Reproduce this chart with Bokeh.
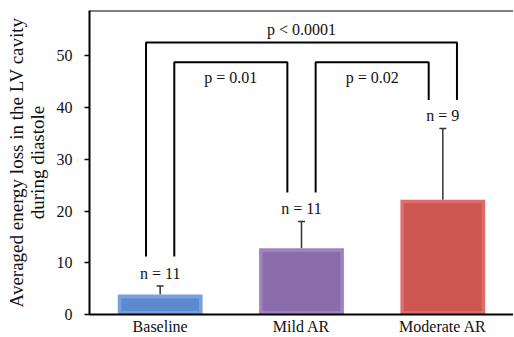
from bokeh.plotting import figure
from bokeh.models import (FactorRange, Range1d, FixedTicker, Span, Label, Whisker,
                          ColumnDataSource, TeeHead)
from bokeh.core.properties import value
from bokeh.embed import file_html
from bokeh.resources import INLINE

# ---- data ----
groups = ["Baseline", "Mild AR", "Moderate AR"]
means = [3.85, 12.8, 22.2]
sds = [1.65, 5.2, 13.8]
n_labels = ["n = 11", "n = 11", "n = 9"]
fill_main = ["#5a8ad0", "#8a6cab", "#cd5552"]
fill_edge = ["#79a2dc", "#9f83c0", "#dc6d6a"]
y_ticks = [0, 10, 20, 30, 40, 50]

# comparisons: (left group, right group, bracket top, left leg end, right leg end, label, outer?)
cmp_left = [0, 0, 1]
cmp_right = [2, 1, 2]
cmp_top = [52.6, 48.8, 48.8]
cmp_left_end = [11.2, 11.2, 23.6]
cmp_right_end = [41.5, 23.6, 41.5]
cmp_text = ["p < 0.0001", "p = 0.01", "p = 0.02"]
cmp_outer = [True, False, False]

FONT = "Liberation Serif"
Y_END = 58.8
FS = "16px"

p = figure(x_range=FactorRange(*groups), y_range=Range1d(0, Y_END),
           width=513, height=337, output_backend="svg", toolbar_location=None,
           min_border_left=89, min_border_right=0, min_border_top=10, min_border_bottom=0)
p.outline_line_color = None
p.xgrid.visible = False
p.ygrid.visible = False

# bars with a simple bevel look
centers = [i + 0.5 for i in range(len(groups))]
p.vbar(x=centers, top=means, width=0.6, bottom=0, fill_color=fill_edge, line_color=None)
inset_x = 0.025
inset_y = 0.7
p.vbar(x=centers, top=[m - inset_y for m in means], bottom=inset_y,
       width=0.6 - 2 * inset_x, fill_color=fill_main, line_color=None)

# error bars (upper only)
err_src = ColumnDataSource(dict(x=centers, lower=means, upper=[m + s for m, s in zip(means, sds)]))
w = Whisker(base="x", lower="lower", upper="upper", source=err_src, dimension="height",
            line_color="#333333", line_width=1.5,
            upper_head=TeeHead(size=7, line_color="#333333", line_width=1.5), lower_head=None)
p.add_layout(w)

# n labels
p.text(x=centers, y=[m + s for m, s in zip(means, sds)], text=n_labels,
       text_font=value(FONT), text_font_size=FS, text_align="center",
       text_baseline="middle", y_offset=-13, text_color="#111111")

# significance brackets
d = 0.1
bx, by = [], []
for a, b, top, le, re, outer in zip(cmp_left, cmp_right, cmp_top, cmp_left_end,
                                    cmp_right_end, cmp_outer):
    x0 = a + 0.5 - d if outer else a + 0.5 + d
    x1 = b + 0.5 + d if outer else b + 0.5 - d
    bx.append([x0, x0, x1, x1])
    by.append([le, top, top, re])
p.multi_line(xs=bx, ys=by, line_color="black", line_width=2)

outer_x = [(cmp_left[i] + cmp_right[i] + 1) / 2 for i in range(3) if cmp_outer[i]]
outer_y = [cmp_top[i] for i in range(3) if cmp_outer[i]]
outer_t = [cmp_text[i] for i in range(3) if cmp_outer[i]]
inner_x = [(cmp_left[i] + cmp_right[i] + 1) / 2 for i in range(3) if not cmp_outer[i]]
inner_y = [cmp_top[i] for i in range(3) if not cmp_outer[i]]
inner_t = [cmp_text[i] for i in range(3) if not cmp_outer[i]]
p.text(x=outer_x, y=outer_y, text=outer_t, text_font=value(FONT), text_font_size=FS,
       text_align="center", text_baseline="bottom", y_offset=-5, text_color="#111111")
p.text(x=inner_x, y=inner_y, text=inner_t, text_font=value(FONT), text_font_size=FS,
       text_align="center", text_baseline="top", y_offset=7, text_color="#111111")

# top border line
p.add_layout(Span(location=Y_END, dimension="width", line_color="black", line_width=2))

# axes
p.yaxis.ticker = FixedTicker(ticks=y_ticks)
p.yaxis.minor_tick_line_color = None
p.yaxis.major_tick_in = 0
p.yaxis.major_tick_out = 5
p.yaxis.major_tick_line_width = 1.5
p.yaxis.major_tick_line_color = "black"
p.yaxis.axis_line_width = 2
p.yaxis.axis_line_color = "black"
p.yaxis.major_label_standoff = 12
p.yaxis.major_label_text_font = FONT
p.yaxis.major_label_text_font_size = FS
p.yaxis.major_label_text_color = "#111111"
p.yaxis.axis_label = "Averaged energy loss in the LV cavity\nduring diastole"
p.yaxis.axis_label_text_font = FONT
p.yaxis.axis_label_text_font_size = "19px"
p.yaxis.axis_label_text_font_style = "normal"
p.yaxis.axis_label_text_color = "#111111"
p.yaxis.axis_label_text_line_height = 1.0
p.yaxis.axis_label_standoff = 6

p.xaxis.major_tick_line_color = None
p.xaxis.minor_tick_line_color = None
p.xaxis.major_tick_out = 0
p.xaxis.major_tick_in = 0
p.xaxis.axis_label = None
p.xaxis.axis_label_standoff = 0
p.xaxis.axis_line_width = 2
p.xaxis.axis_line_color = "black"
p.xaxis.major_label_standoff = 3
p.xaxis.major_label_text_font = FONT
p.xaxis.major_label_text_font_size = FS
p.xaxis.major_label_text_color = "#111111"

# unit label
p.add_layout(Label(x=0, y=Y_END, text="[N/s]", x_offset=-9, y_offset=-15,
                   text_align="right", text_baseline="middle",
                   text_font=FONT, text_font_size=FS, text_color="#2a1f14"))

open("out.html", "w").write(file_html(p, INLINE))
